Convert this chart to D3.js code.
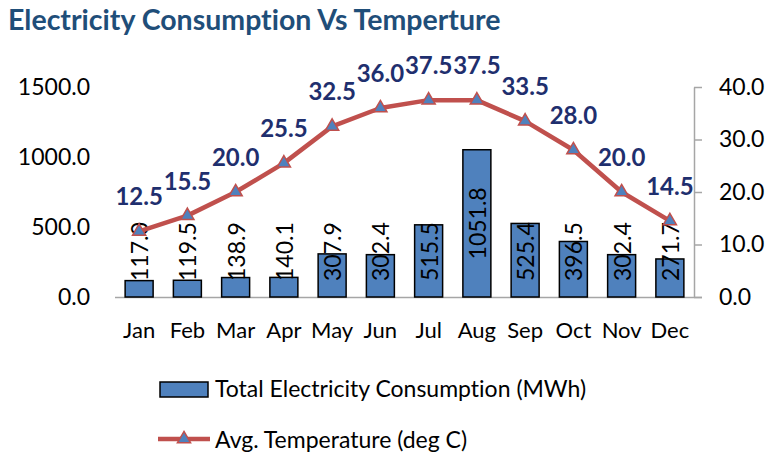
<!DOCTYPE html>
<html>
<head>
<meta charset="utf-8">
<script src="https://cdn.jsdelivr.net/npm/d3@7"></script>
<style>
  body { margin: 0; background: #fff; }
  text { font-family: Lato, "Open Sans", sans-serif; font-variant-ligatures: none; }
</style>
</head>
<body>
<svg id="chart" width="771" height="454"></svg>
<script>
const months = ["Jan", "Feb", "Mar", "Apr", "May", "Jun", "Jul", "Aug", "Sep", "Oct", "Nov", "Dec"];
const consumption = [117.0, 119.5, 138.9, 140.1, 307.9, 302.4, 515.5, 1051.8, 525.4, 396.5, 302.4, 271.7];
const temperature = [12.5, 15.5, 20.0, 25.5, 32.5, 36.0, 37.5, 37.5, 33.5, 28.0, 20.0, 14.5];
const leftTicks = [0, 500, 1000, 1500];
const rightTicks = [0, 10, 20, 30, 40];

const svg = d3.select("#chart");

const x = d3.scaleBand().domain(months).range([115, 694]).paddingInner(0.42).paddingOuter(0.21);
const yL = d3.scaleLinear().domain([0, 1500]).range([297, 87]);
const yR = d3.scaleLinear().domain([0, 40]).range([297, 87]);

// title
svg.append("text")
  .attr("x", 8).attr("y", 30)
  .attr("font-size", 28.5).attr("font-weight", "bold")
  .attr("fill", "#1F4E79")
  .text("Electricity Consumption Vs Temperture");

// left axis (labels only)
const gL = svg.append("g").attr("transform", "translate(90,0)")
  .call(d3.axisLeft(yL).tickValues(leftTicks).tickFormat(d3.format(".1f")).tickSize(0).tickPadding(0));
gL.select(".domain").remove();
gL.selectAll("text").attr("font-size", 23).attr("font-family", "Lato").attr("fill", "#000");

// right axis
const gR = svg.append("g").attr("transform", "translate(694,0)")
  .call(d3.axisRight(yR).tickValues(rightTicks).tickFormat(d3.format(".1f")).tickSize(8).tickSizeOuter(0).tickPadding(17));
gR.select(".domain").attr("stroke", "#a6a6a6").attr("stroke-width", 1.5);
gR.selectAll(".tick line").attr("stroke", "#a6a6a6").attr("stroke-width", 1.5);
gR.selectAll("text").attr("font-size", 23).attr("font-family", "Lato").attr("fill", "#000");

// bottom axis
const gB = svg.append("g").attr("transform", "translate(0,297)")
  .call(d3.axisBottom(x).tickSize(0).tickPadding(25));
gB.select(".domain").attr("stroke", "#a6a6a6").attr("stroke-width", 1.5)
  .attr("d", "M115,0.5H702");
gB.selectAll("text").attr("font-size", 22).attr("font-family", "Lato").attr("fill", "#000");

// bars
svg.append("g").selectAll("rect")
  .data(consumption)
  .join("rect")
  .attr("x", (d, i) => x(months[i]))
  .attr("y", d => yL(d))
  .attr("width", x.bandwidth())
  .attr("height", d => yL(0) - yL(d))
  .attr("fill", "#4F81BD")
  .attr("stroke", "#000")
  .attr("stroke-width", 1.5);

// bar value labels (rotated), kept above the bottom edge like excel does
const barLabels = svg.append("g").selectAll("text")
  .data(consumption)
  .join("text")
  .attr("font-size", 23)
  .attr("fill", "#000")
  .attr("text-anchor", "middle")
  .attr("dominant-baseline", "central")
  .text(d => d.toFixed(1));
barLabels.each(function(d, i) {
  const half = this.getComputedTextLength() / 2;
  const cx = x(months[i]) + x.bandwidth() / 2;
  const cy = Math.min((yL(d) + yL(0)) / 2, 281 - half);
  d3.select(this).attr("transform", `translate(${cx},${cy}) rotate(-90)`);
});

// temperature line
const line = d3.line()
  .x((d, i) => x(months[i]) + x.bandwidth() / 2)
  .y(d => yR(d));
svg.append("path")
  .datum(temperature)
  .attr("d", line)
  .attr("fill", "none")
  .attr("stroke", "#C0504D")
  .attr("stroke-width", 4.5)
  .attr("stroke-linejoin", "round");

const tri = d3.symbol().type(d3.symbolTriangle).size(75);
svg.append("g").selectAll("path")
  .data(temperature)
  .join("path")
  .attr("d", tri)
  .attr("transform", (d, i) => `translate(${x(months[i]) + x.bandwidth() / 2},${yR(d)})`)
  .attr("fill", "#4F81BD")
  .attr("stroke", "#C0504D")
  .attr("stroke-width", 1.5);

svg.append("g").selectAll("text")
  .data(temperature)
  .join("text")
  .attr("x", (d, i) => x(months[i]) + x.bandwidth() / 2)
  .attr("y", d => yR(d) - 26)
  .attr("text-anchor", "middle")
  .attr("font-size", 24)
  .attr("font-weight", "bold")
  .attr("fill", "#1F2F6E")
  .text(d => d.toFixed(1));

// legend
const legend = svg.append("g");
legend.append("rect")
  .attr("x", 160).attr("y", 382).attr("width", 48).attr("height", 15)
  .attr("fill", "#4F81BD").attr("stroke", "#000").attr("stroke-width", 1.5);
legend.append("text")
  .attr("x", 215).attr("y", 397).attr("font-size", 23).attr("fill", "#000")
  .text("Total Electricity Consumption (MWh)");
legend.append("line")
  .attr("x1", 158).attr("x2", 210).attr("y1", 439).attr("y2", 439)
  .attr("stroke", "#C0504D").attr("stroke-width", 4.5);
legend.append("path")
  .attr("d", tri)
  .attr("transform", "translate(184,439)")
  .attr("fill", "#4F81BD").attr("stroke", "#C0504D").attr("stroke-width", 1.5);
legend.append("text")
  .attr("x", 215).attr("y", 448).attr("font-size", 23).attr("fill", "#000")
  .text("Avg. Temperature (deg C)");
</script>
</body>
</html>
